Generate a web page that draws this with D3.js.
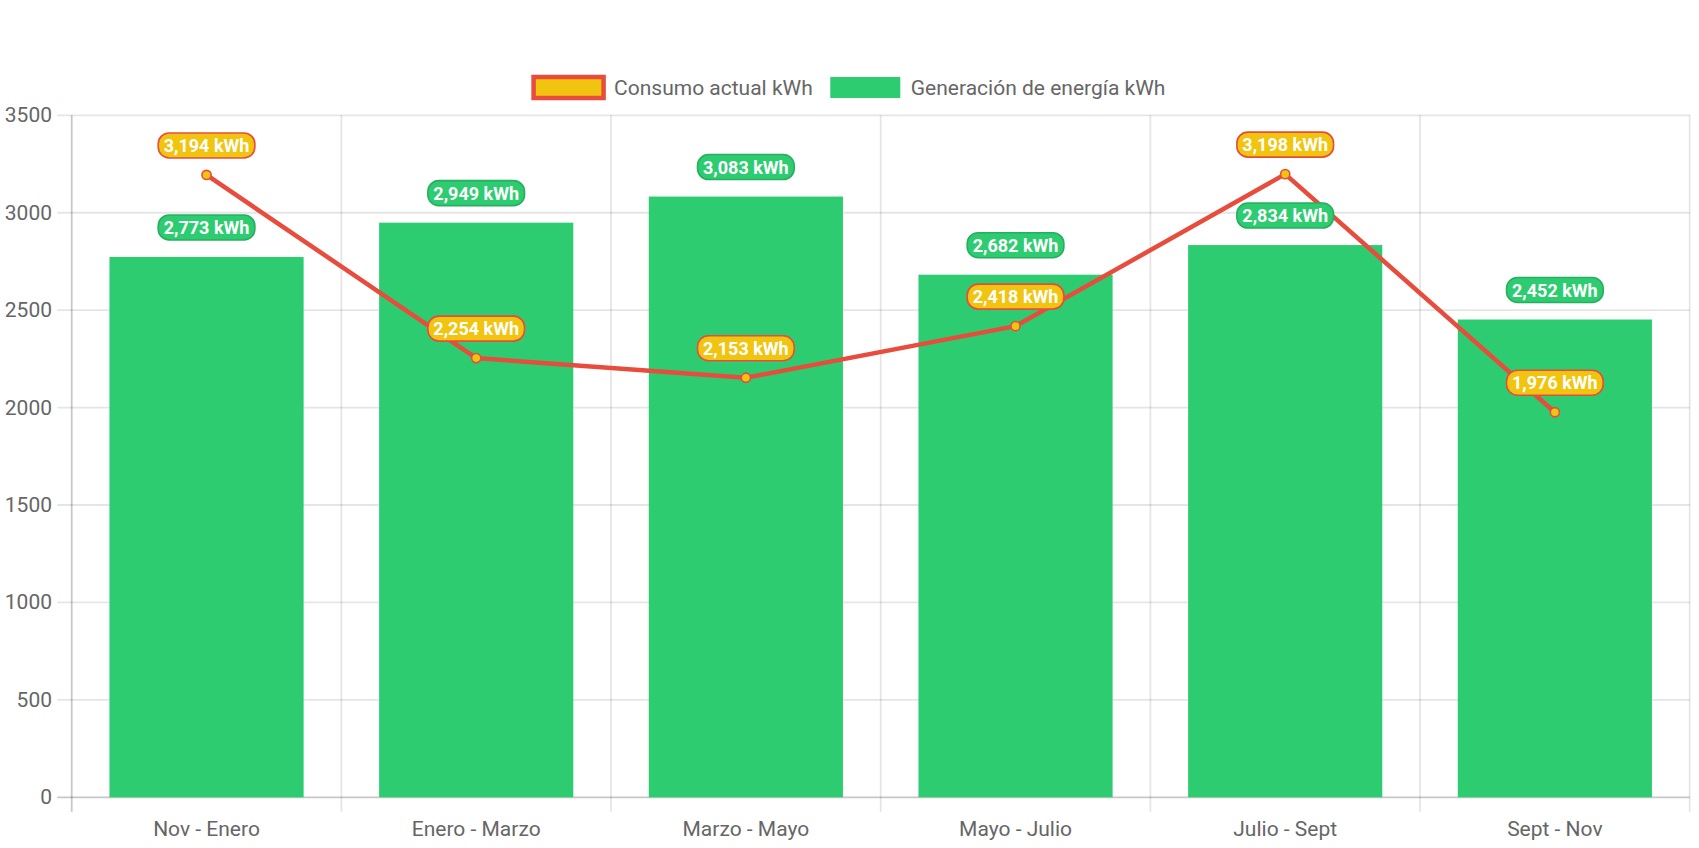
<!DOCTYPE html>
<html>
<head>
<meta charset="utf-8">
<script src="https://cdn.jsdelivr.net/npm/d3@7"></script>
<style>
  html, body { margin: 0; padding: 0; background: #fff; }
  svg { display: block; font-family: Roboto, "Noto Sans", sans-serif; }
</style>
</head>
<body>
<svg id="chart" width="1699" height="848"></svg>
<script>
const categories = ["Nov - Enero", "Enero - Marzo", "Marzo - Mayo", "Mayo - Julio", "Julio - Sept", "Sept - Nov"];
const consumo = [3194, 2254, 2153, 2418, 3198, 1976];
const generacion = [2773, 2949, 3083, 2682, 2834, 2452];
const yTicks = [0, 500, 1000, 1500, 2000, 2500, 3000, 3500];
const seriesNames = ["Consumo actual kWh", "Generación de energía kWh"];

(function () {
const W = 1699;
const pLeft = 71.7, pRight = 1689.7, pTop = 115.3, pBottom = 797.3;
const GREEN = "#2ecc71", GREEN_DARK = "#27ae60", YELLOW = "#f1c40f", RED = "#e74c3c";

const svg = d3.select("#chart");
const x = d3.scaleBand().domain(categories).range([pLeft, pRight]).padding(0);
const y = d3.scaleLinear().domain([0, 3500]).range([pBottom, pTop]);
const bw = x.bandwidth() * 0.72;

// grid
const grid = svg.append("g");
yTicks.forEach(t => {
  grid.append("line")
    .attr("x1", pLeft - 14.4).attr("x2", pRight)
    .attr("y1", y(t)).attr("y2", y(t))
    .attr("stroke", t === 0 ? "rgba(0,0,0,0.22)" : "rgba(0,0,0,0.1)")
    .attr("stroke-width", 1.8);
});
const xb = categories.map(c => x(c)).concat([pRight]);
xb.forEach((b, i) => {
  grid.append("line")
    .attr("x1", b).attr("x2", b)
    .attr("y1", pTop).attr("y2", pBottom + 14.4)
    .attr("stroke", i === 0 ? "rgba(0,0,0,0.22)" : "rgba(0,0,0,0.1)")
    .attr("stroke-width", 1.8);
});

// y tick labels
svg.append("g").selectAll("text").data(yTicks).join("text")
  .attr("x", 52).attr("y", d => y(d))
  .attr("text-anchor", "end").attr("dominant-baseline", "central")
  .attr("font-size", 21).attr("fill", "#666")
  .text(d => d);

// x labels
svg.append("g").selectAll("text").data(categories).join("text")
  .attr("x", d => x(d) + x.bandwidth() / 2).attr("y", 836)
  .attr("text-anchor", "middle")
  .attr("font-size", 21).attr("fill", "#666")
  .text(d => d);

// bars
svg.append("g").selectAll("rect").data(generacion).join("rect")
  .attr("x", (d, i) => x(categories[i]) + x.bandwidth() / 2 - bw / 2)
  .attr("width", bw)
  .attr("y", d => y(d))
  .attr("height", d => pBottom - y(d))
  .attr("fill", GREEN);

// line
const cx = i => x(categories[i]) + x.bandwidth() / 2;
const line = d3.line().x((d, i) => cx(i)).y(d => y(d));
svg.append("path").datum(consumo)
  .attr("d", line).attr("fill", "none")
  .attr("stroke", RED).attr("stroke-width", 4.5)
  .attr("stroke-linejoin", "round");
svg.append("g").selectAll("circle").data(consumo).join("circle")
  .attr("cx", (d, i) => cx(i)).attr("cy", d => y(d))
  .attr("r", 4.6).attr("fill", YELLOW)
  .attr("stroke", RED).attr("stroke-width", 1.6);

// labels
const fmt = d3.format(",");
function pill(g, cxv, cyv, text, bg, border) {
  const rect = g.append("rect");
  const t = g.append("text")
    .attr("x", cxv).attr("y", cyv)
    .attr("text-anchor", "middle").attr("dominant-baseline", "central")
    .attr("font-size", 18).attr("font-weight", "bold").attr("fill", "#fff")
    .text(text);
  const w = t.node().getComputedTextLength() + 11;
  const h = 25;
  rect.attr("x", cxv - w / 2).attr("y", cyv - h / 2)
    .attr("width", w).attr("height", h)
    .attr("rx", 11).attr("ry", 11)
    .attr("fill", bg).attr("stroke", border).attr("stroke-width", 1.6);
}
const labels = svg.append("g");
generacion.forEach((v, i) => {
  pill(labels.append("g"), cx(i), y(v) - 29.5, fmt(v) + " kWh", GREEN, GREEN_DARK);
});
consumo.forEach((v, i) => {
  pill(labels.append("g"), cx(i), y(v) - 29.5, fmt(v) + " kWh", YELLOW, RED);
});

// legend
const leg = svg.append("g");
const legY = 87.5, boxW = 70, boxH = 21, textGap = 10.5, itemGap = 17.5;
const t1 = leg.append("text").attr("y", legY)
  .attr("dominant-baseline", "central").attr("font-size", 21).attr("fill", "#666")
  .text(seriesNames[0]);
const t2 = leg.append("text").attr("y", legY)
  .attr("dominant-baseline", "central").attr("font-size", 21).attr("fill", "#666")
  .text(seriesNames[1]);
const w1 = t1.node().getComputedTextLength(), w2 = t2.node().getComputedTextLength();
const total = boxW + textGap + w1 + itemGap + boxW + textGap + w2;
let lx = W / 2 - total / 2;
leg.insert("rect", "text").attr("x", lx).attr("y", legY - boxH / 2).attr("width", boxW).attr("height", boxH)
  .attr("fill", YELLOW).attr("stroke", RED).attr("stroke-width", 4.5);
t1.attr("x", lx + boxW + textGap);
lx = lx + boxW + textGap + w1 + itemGap;
leg.insert("rect", "text").attr("x", lx).attr("y", legY - boxH / 2).attr("width", boxW).attr("height", boxH)
  .attr("fill", GREEN);
t2.attr("x", lx + boxW + textGap);
})();
</script>
</body>
</html>
